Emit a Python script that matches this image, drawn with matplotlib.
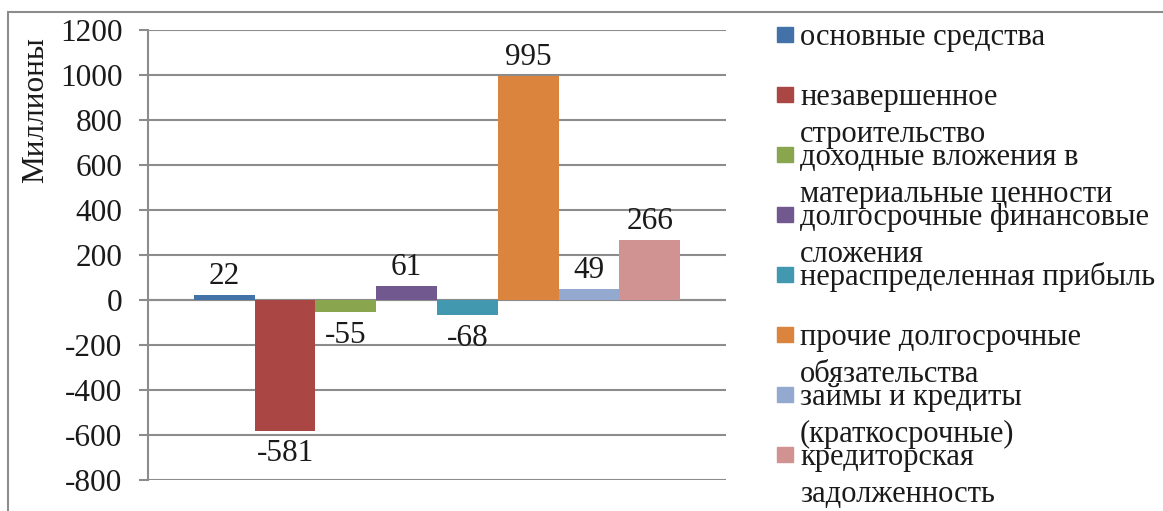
import matplotlib
matplotlib.use("Agg")
import matplotlib.pyplot as plt
from matplotlib.patches import Rectangle

plt.rcParams['font.family'] = ['Liberation Serif', 'DejaVu Serif']

categories = [
    "основные средства",
    "незавершенное строительство",
    "доходные вложения в материальные ценности",
    "долгосрочные финансовые сложения",
    "нераспределенная прибыль",
    "прочие долгосрочные обязательства",
    "займы и кредиты (краткосрочные)",
    "кредиторская задолженность",
]
legend_lines = [
    ["основные средства"],
    ["незавершенное", "строительство"],
    ["доходные вложения в", "материальные ценности"],
    ["долгосрочные финансовые", "сложения"],
    ["нераспределенная прибыль"],
    ["прочие долгосрочные", "обязательства"],
    ["займы и кредиты", "(краткосрочные)"],
    ["кредиторская", "задолженность"],
]
values = [22, -581, -55, 61, -68, 995, 49, 266]
colors = ["#4272A8", "#AA4643", "#89A54E", "#71588F",
          "#4198AF", "#DB843D", "#93A9CF", "#D19392"]
yticks = [-800, -600, -400, -200, 0, 200, 400, 600, 800, 1000, 1200]

W, H = 1163, 511
FS = 22.5
LFS = 22.0
TXT = "#1a1a1a"
fig = plt.figure(figsize=(W / 100, H / 100), dpi=100)

def fx(px):
    return px / W

def fy(py):
    return 1 - py / H

# outer chart frame
fig.patches.append(Rectangle((fx(8), fy(530)), fx(1200), fy(12) - fy(530),
                             transform=fig.transFigure, fill=False,
                             edgecolor="#8c8c8c", linewidth=1.5))

ax = fig.add_axes([fx(148), fy(480), fx(726) - fx(148), fy(30) - fy(480)])
grid_c = "#8c8c8c"
ax.set_ylim(-800, 1200)
ax.set_yticks(yticks)
ax.set_yticklabels([str(t) for t in yticks], fontsize=FS, color=TXT)
ax.yaxis.grid(True, color=grid_c, linewidth=1.5)
ax.set_axisbelow(True)
ax.tick_params(axis='y', length=6.5, width=1.5, color=grid_c, pad=12)
ax.tick_params(axis='x', length=0, labelbottom=False)
for s in ["top", "right", "bottom"]:
    ax.spines[s].set_visible(False)
ax.spines["left"].set_color(grid_c)
ax.spines["left"].set_linewidth(1.5)
ax.axhline(0, color=grid_c, linewidth=1.5, zorder=1)
ax.plot([1, 1], [0, -0.022], transform=ax.get_yaxis_transform(),
        color=grid_c, linewidth=1.5, clip_on=False)

n = len(values)
xs = list(range(n))
ax.set_xlim(-1.254, n - 1 + 1.254)
bars = ax.bar(xs, values, width=1.0, color=colors, zorder=3)
for x, v in zip(xs, values):
    if v >= 0:
        ax.annotate(str(v), (x, v), xytext=(0, 3), textcoords="offset points",
                    ha='center', va='bottom', fontsize=FS, color=TXT)
    else:
        ax.annotate(str(v), (x, v), xytext=(0, -6), textcoords="offset points",
                    ha='center', va='top', fontsize=FS, color=TXT)

fig.text(fx(36), fy(110), "Миллионы", rotation=90, ha='center', va='center',
         fontsize=FS, color=TXT)

# legend
for i, (lines, c) in enumerate(zip(legend_lines, colors)):
    base = 45 + 60 * i
    fig.patches.append(Rectangle((fx(777), fy(42 + 60 * i)), fx(16), fy(27) - fy(42),
                                 transform=fig.transFigure, color=c))
    for j, line in enumerate(lines):
        fig.text(fx(800), fy(base + 37 * j), line, ha='left', va='baseline',
                 fontsize=LFS, color=TXT)

fig.savefig("out.png", dpi=100)
